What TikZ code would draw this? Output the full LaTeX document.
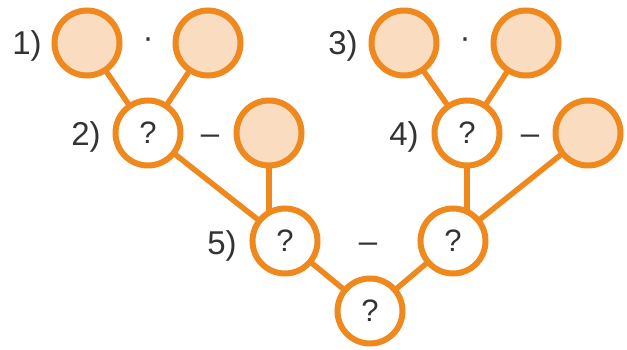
\documentclass[tikz,border=0pt]{standalone}
\usepackage{fontspec}
\setmainfont{Liberation Sans}
\usetikzlibrary{backgrounds}
\definecolor{org}{HTML}{EF891D}
\definecolor{peach}{HTML}{FADCC0}
\definecolor{txt}{HTML}{333333}
\tikzset{
  given/.style={circle,draw=org,line width=6pt,fill=peach,minimum size=65pt,inner sep=0pt},
  ask/.style={circle,draw=org,line width=6pt,fill=white,minimum size=65pt,inner sep=0pt,text=txt,font=\fontsize{31}{31}\selectfont},
  lbl/.style={text=txt,font=\fontsize{33}{33}\selectfont,inner sep=0pt},
  link/.style={draw=org,line width=5.5pt}
}
\begin{document}
\begin{tikzpicture}[x=1pt,y=-1pt]
\useasboundingbox (0,0) rectangle (627,350);
% circles
\node[given] (a1) at (87,43) {};
\node[given] (b1) at (208,43) {};
\node[ask] (q2) at (148,133) {?};
\node[given] (c2) at (269,133) {};
\node[given] (a3) at (404,43) {};
\node[given] (b3) at (526,43) {};
\node[ask] (q4) at (467,133) {?};
\node[given] (c4) at (588,133) {};
\node[ask] (q5) at (285,241) {?};
\node[ask] (q6) at (453,241) {?};
\node[ask] (r) at (370,311) {?};
% labels
\node[lbl] (l1) at (27,46) {1)};
\node[lbl] (l2) at (86,137) {2)};
\node[lbl] (l3) at (343,46) {3)};
\node[lbl] (l4) at (404,137) {4)};
\node[lbl] (l5) at (222,246) {5)};
\node[lbl] (d1) at (148,43) {·};
\node[lbl] (d3) at (465,43) {·};
\node[lbl] (m2) at (210,140) {–};
\node[lbl] (m4) at (530,140) {–};
\node[lbl] (m5) at (368,248) {–};
% connectors
\begin{scope}[on background layer]
\draw[link] (a1.center) -- (q2.center);
\draw[link] (b1.center) -- (q2.center);
\draw[link] (a3.center) -- (q4.center);
\draw[link] (b3.center) -- (q4.center);
\draw[link] (q2.center) -- (q5.center);
\draw[link] (c2.center) -- (c2.center |- q5.center);
\draw[link] (q4.center) -- (q4.center |- q6.center);
\draw[link] (c4.center) -- (q6.center);
\draw[link] (q5.center) -- (r.center);
\draw[link] (q6.center) -- (r.center);
\end{scope}
\end{tikzpicture}
\end{document}
